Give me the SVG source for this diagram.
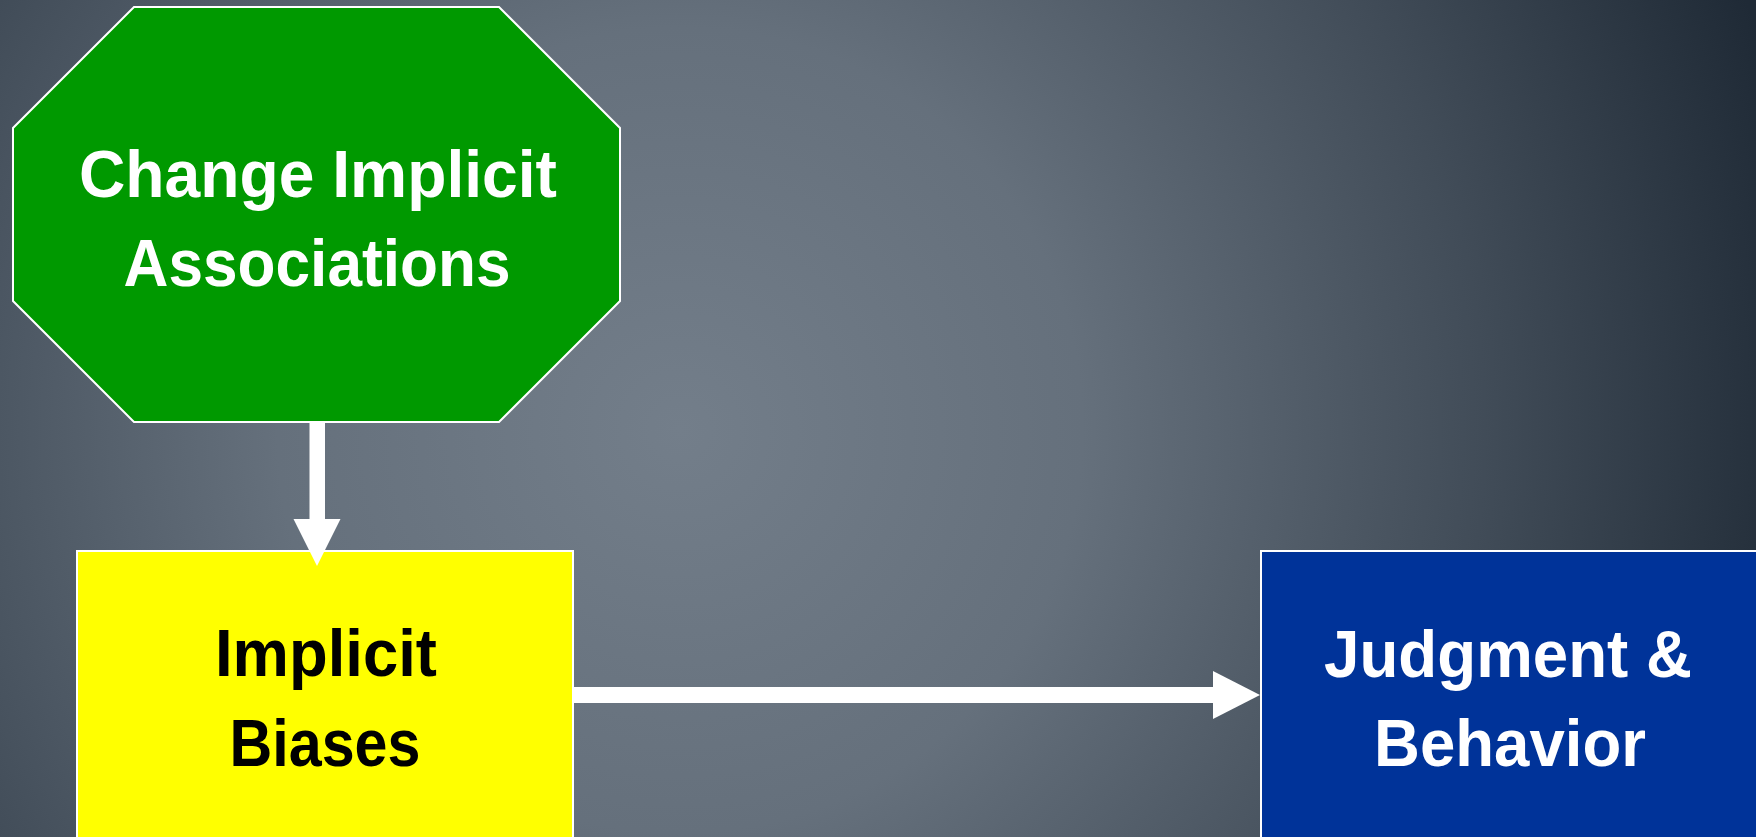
<svg xmlns="http://www.w3.org/2000/svg" width="1756" height="837" viewBox="0 0 1756 837">
<defs>
<radialGradient id="bg" gradientUnits="userSpaceOnUse" cx="680" cy="430" r="1150">
<stop offset="0" stop-color="#737e8a"/>
<stop offset="0.35" stop-color="#65707c"/>
<stop offset="0.7" stop-color="#414c58"/>
<stop offset="1" stop-color="#1f2a36"/>
</radialGradient>
<style>
.node{stroke:#ffffff;stroke-width:2}
.lbl{font-family:"Liberation Sans",Arial,sans-serif;font-weight:bold;font-size:67px;text-anchor:middle}
.conn{fill:#ffffff}
</style>
</defs>
<rect x="0" y="0" width="1756" height="837" fill="url(#bg)"/>
<g id="node-change">
<polygon class="node" fill="#009900" points="134,7 499,7 620,128 620,301 499,422 134,422 13,301 13,128"/>
<text class="lbl" fill="#ffffff" x="318" y="197" textLength="478" lengthAdjust="spacingAndGlyphs">Change Implicit</text>
<text class="lbl" fill="#ffffff" x="317" y="286" textLength="387" lengthAdjust="spacingAndGlyphs">Associations</text>
</g>
<g id="node-biases">
<rect class="node" fill="#ffff00" x="77" y="551" width="496" height="300"/>
<text class="lbl" fill="#000000" x="326" y="676" textLength="222" lengthAdjust="spacingAndGlyphs">Implicit</text>
<text class="lbl" fill="#000000" x="325" y="766" textLength="191" lengthAdjust="spacingAndGlyphs">Biases</text>
</g>
<g id="node-judgment">
<rect class="node" fill="#003399" x="1261" y="551" width="510" height="300"/>
<text class="lbl" fill="#ffffff" x="1508" y="677" textLength="368" lengthAdjust="spacingAndGlyphs">Judgment &amp;</text>
<text class="lbl" fill="#ffffff" x="1510" y="766" textLength="272" lengthAdjust="spacingAndGlyphs">Behavior</text>
</g>
<g id="connectors">
<rect class="conn" x="309.5" y="423" width="15.5" height="97"/>
<polygon class="conn" points="293.5,519 340.5,519 317,566"/>
<rect class="conn" x="574" y="687" width="640" height="16"/>
<polygon class="conn" points="1213,671 1213,719 1260,695"/>
</g>
</svg>
